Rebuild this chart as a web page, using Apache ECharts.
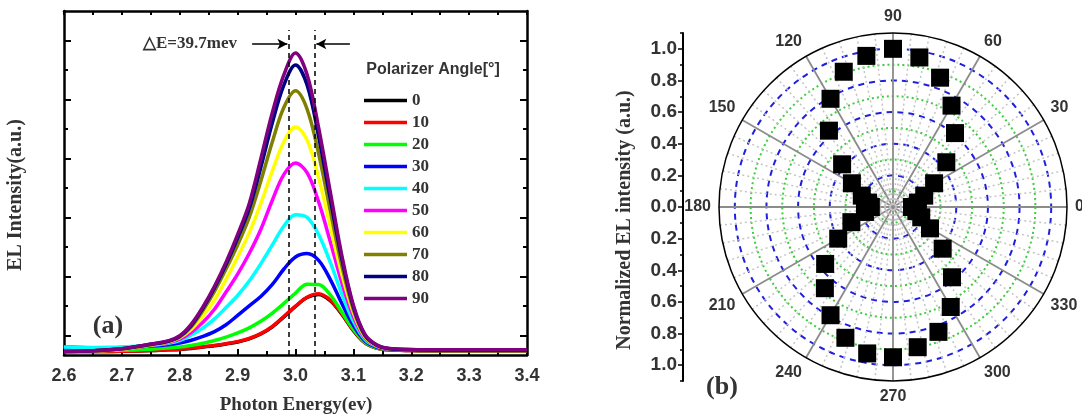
<!DOCTYPE html>
<html>
<head>
<meta charset="utf-8">
<script src="https://cdn.jsdelivr.net/npm/echarts@6/dist/echarts.min.js"></script>
<style>
  html, body { margin: 0; padding: 0; background: #fff; }
  #chart { width: 1082px; height: 420px; }
</style>
</head>
<body>
<div id="chart"></div>
<script>
// photon energy (ev) sample points shared by every spectrum
const energy = [2.6, 2.65, 2.7, 2.75, 2.78, 2.8, 2.82, 2.84, 2.86, 2.88, 2.9, 2.92, 2.94, 2.96, 2.98,
  3.0, 3.02, 3.04, 3.06, 3.08, 3.1, 3.12, 3.14, 3.16, 3.2, 3.25, 3.3, 3.35, 3.4]

// EL intensity (a.u.) for each polarizer angle
const int0 = [1.0, 1.0, 1.1, 1.3, 1.5, 1.6, 1.9, 2.3, 2.7, 3.2, 3.8, 4.7, 6.1, 8.2, 11.1, 14.1, 16.7, 17.6, 15.8, 11.9, 7.1, 3.5, 2.0, 1.5, 1.3, 1.2, 1.2, 1.2, 1.2]
const int10 = [1.0, 1.0, 1.1, 1.3, 1.5, 1.7, 2.0, 2.4, 2.8, 3.3, 3.9, 4.8, 6.2, 8.3, 11.2, 14.2, 16.8, 17.8, 16.0, 12.0, 7.2, 3.6, 2.0, 1.5, 1.3, 1.2, 1.2, 1.2, 1.2]
const int20 = [1.3, 1.3, 1.4, 1.7, 2.0, 2.3, 2.8, 3.4, 4.2, 5.2, 6.4, 7.9, 9.8, 12.2, 15.0, 18.0, 20.6, 20.5, 17.5, 12.5, 7.5, 3.7, 2.1, 1.6, 1.4, 1.3, 1.3, 1.3, 1.3]
const int30 = [2.3, 2.1, 2.2, 2.6, 3.0, 3.5, 4.3, 5.4, 6.8, 8.8, 11.5, 14.3, 17.0, 20.5, 25.0, 28.5, 29.5, 27.5, 22.0, 15.0, 8.6, 4.1, 2.3, 1.7, 1.5, 1.4, 1.4, 1.4, 1.4]
const int40 = [2.3, 2.2, 2.3, 2.8, 3.4, 4.2, 5.8, 7.8, 10.5, 13.8, 17.3, 21.5, 26.5, 32.0, 37.5, 40.8, 40.0, 35.0, 27.0, 17.8, 9.8, 4.5, 2.5, 1.8, 1.6, 1.5, 1.5, 1.5, 1.5]
const int50 = [1.0, 1.2, 1.7, 2.8, 3.6, 4.6, 6.6, 9.5, 13.3, 18.3, 23.5, 29.5, 36.5, 45.0, 52.5, 55.8, 53.0, 44.5, 33.0, 21.0, 11.2, 4.9, 2.6, 1.7, 1.5, 1.4, 1.4, 1.4, 1.4]
const int60 = [1.0, 1.2, 1.7, 2.9, 3.8, 5.0, 7.5, 11.3, 16.0, 22.0, 28.5, 35.5, 44.0, 53.5, 62.0, 66.3, 62.5, 51.5, 37.5, 23.5, 12.3, 5.2, 2.7, 1.8, 1.5, 1.4, 1.4, 1.4, 1.4]
const int70 = [1.0, 1.2, 1.8, 3.0, 3.9, 5.2, 8.2, 12.9, 18.5, 25.0, 32.0, 40.0, 50.5, 62.0, 72.0, 76.8, 71.5, 58.5, 42.0, 26.0, 13.2, 5.5, 2.8, 1.8, 1.5, 1.4, 1.4, 1.4, 1.4]
const int80 = [1.0, 1.2, 1.8, 3.1, 4.0, 5.4, 8.6, 13.6, 19.5, 26.3, 34.0, 42.5, 54.5, 67.5, 78.5, 84.3, 78.5, 63.5, 45.5, 28.0, 14.0, 5.8, 2.9, 1.9, 1.5, 1.4, 1.4, 1.4, 1.4]
const int90 = [1.0, 1.2, 1.8, 3.2, 4.1, 5.6, 9.0, 14.0, 20.0, 27.0, 35.0, 44.0, 57.0, 70.5, 81.5, 87.8, 81.5, 66.0, 47.5, 29.0, 14.5, 6.0, 3.0, 2.0, 1.6, 1.5, 1.5, 1.5, 1.5]

const angleNames = ['0', '10', '20', '30', '40', '50', '60', '70', '80', '90']
const spectra = [int0, int10, int20, int30, int40, int50, int60, int70, int80, int90]
const lineColors = ['#000000', '#ff0000', '#00ff00', '#0000ff', '#00ffff', '#ff00ff', '#ffff00', '#808000', '#000080', '#800080']

// peak positions marked with dashed lines (ev)
const peakMarks = [2.989, 3.033]

// polar plot (b): polarizer angle (deg) and normalized EL intensity
const polarAngles = [0, 10, 20, 30, 40, 50, 60, 70, 80, 90, 100, 110, 120, 130, 140, 150, 160, 170,
  180, 190, 200, 210, 220, 230, 240, 250, 260, 270, 280, 290, 300, 310, 320, 330, 340, 350]
const polarValues = [0.12, 0.16, 0.21, 0.30, 0.44, 0.61, 0.74, 0.87, 0.96, 1.0, 0.97, 0.91, 0.79, 0.63, 0.42, 0.30, 0.21, 0.16,
  0.14, 0.18, 0.28, 0.40, 0.56, 0.67, 0.79, 0.88, 0.94, 0.95, 0.90, 0.84, 0.73, 0.58, 0.41, 0.27, 0.19, 0.15]

const sans = 'Liberation Sans'
const serif = 'Liberation Serif'
const inkText = '#333'

const chart = echarts.init(document.getElementById('chart'))

const lineSeries = spectra.map((vals, i) => ({
  type: 'line',
  name: angleNames[i],
  xAxisIndex: 0,
  yAxisIndex: 0,
  data: energy.map((e, j) => [e, vals[j]]),
  symbol: 'none',
  showSymbol: false,
  smooth: 0.35,
  lineStyle: { width: 3.5, color: lineColors[i] },
  itemStyle: { color: lineColors[i] }
}))

// dashed peak lines + arrows for ΔE go on the top-most spectrum
lineSeries[lineSeries.length - 1].markLine = {
  silent: true,
  animation: false,
  symbol: 'none',
  label: { show: false },
  lineStyle: { color: '#000', width: 1.5, type: [5, 4] },
  data: [
    [{ coord: [peakMarks[0], 0] }, { coord: [peakMarks[0], 94.5] }],
    [{ coord: [peakMarks[1], 0] }, { coord: [peakMarks[1], 94.5] }],
    [{ coord: [2.925, 90.4], symbol: 'none', lineStyle: { type: 'solid', width: 1.5, color: '#000' } },
      { coord: [2.986, 90.4], symbol: 'arrow', symbolSize: [8, 10] }],
    [{ coord: [3.094, 90.4], symbol: 'none', lineStyle: { type: 'solid', width: 1.5, color: '#000' } },
      { coord: [3.036, 90.4], symbol: 'arrow', symbolSize: [8, 10] }]
  ]
}

const hidden = { show: false }
const frameLine = { show: true, onZero: false, lineStyle: { color: '#000', width: 2.5 } }

const option = {
  animation: false,
  backgroundColor: '#fff',
  grid: [
    { left: 64, top: 11, width: 463, height: 344, outerBoundsMode: 'none' },
    { left: 64, top: 40.5, width: 463, height: 295, outerBoundsMode: 'none' },
    { left: 683, top: 48.8, width: 1, height: 316.4, outerBoundsMode: 'none' },
    { left: 683, top: 33, width: 1, height: 348, outerBoundsMode: 'none' }
  ],
  xAxis: [
    {
      gridIndex: 0, type: 'value', min: 2.6, max: 3.4, interval: 0.1, position: 'bottom',
      axisLine: frameLine,
      axisTick: { show: true, inside: true, length: 6, lineStyle: { color: '#000', width: 2 } },
      minorTick: { show: true, splitNumber: 2, length: 4, lineStyle: { color: '#000', width: 2 } },
      axisLabel: {
        margin: 12, color: inkText, fontFamily: sans, fontWeight: 'bold', fontSize: 18,
        formatter: v => v.toFixed(1)
      },
      splitLine: hidden
    },
    {
      gridIndex: 0, type: 'value', min: 2.6, max: 3.4, interval: 0.05, position: 'top',
      axisLine: frameLine,
      axisTick: { show: true, inside: true, length: 4, lineStyle: { color: '#000', width: 2 } },
      axisLabel: hidden, splitLine: hidden
    },
    { gridIndex: 1, type: 'value', min: 0, max: 1, show: false },
    { gridIndex: 2, type: 'value', min: 0, max: 1, show: false },
    { gridIndex: 3, type: 'value', min: 0, max: 1, show: false }
  ],
  yAxis: [
    { gridIndex: 0, type: 'value', min: 0, max: 100, position: 'left', axisLine: frameLine, axisTick: hidden, axisLabel: hidden, splitLine: hidden },
    { gridIndex: 0, type: 'value', min: 0, max: 100, position: 'right', axisLine: frameLine, axisTick: hidden, axisLabel: hidden, splitLine: hidden },
    {
      gridIndex: 1, type: 'value', min: 0, max: 5, interval: 1, position: 'left',
      axisLine: hidden, axisLabel: hidden, splitLine: hidden,
      axisTick: { show: true, inside: true, length: 7, lineStyle: { color: '#000', width: 2 } },
      minorTick: { show: true, splitNumber: 2, length: 4, lineStyle: { color: '#000', width: 2 } }
    },
    {
      gridIndex: 1, type: 'value', min: 0, max: 5, interval: 1, position: 'right',
      axisLine: hidden, axisLabel: hidden, splitLine: hidden,
      axisTick: { show: true, inside: true, length: 7, lineStyle: { color: '#000', width: 2 } },
      minorTick: { show: true, splitNumber: 2, length: 4, lineStyle: { color: '#000', width: 2 } }
    },
    {
      gridIndex: 2, type: 'value', min: -1, max: 1, interval: 0.2, position: 'left',
      axisLine: { show: true, onZero: false, lineStyle: { color: '#000', width: 2 } },
      axisTick: { show: true, length: 5, lineStyle: { color: '#000', width: 1.5 } },
      minorTick: { show: true, splitNumber: 2, length: 3, lineStyle: { color: '#000', width: 1.5 } },
      axisLabel: {
        margin: 6, color: inkText, fontFamily: sans, fontWeight: 'bold', fontSize: 19,
        formatter: v => Math.abs(v).toFixed(1)
      },
      splitLine: hidden
    },
    {
      gridIndex: 3, type: 'value', min: -1.1, max: 1.1, interval: 2.2, position: 'left',
      axisLine: { show: true, onZero: false, lineStyle: { color: '#000', width: 2 } },
      axisTick: { show: true, length: 3, lineStyle: { color: '#000', width: 1.5 } },
      axisLabel: hidden, splitLine: hidden
    }
  ],
  polar: [
    { center: [893, 207], radius: 174 },
    { center: [893, 207], radius: 174 },
    { center: [893, 207], radius: 174 }
  ],
  angleAxis: [
    {
      polarIndex: 0, type: 'value', min: 0, max: 360, interval: 30, startAngle: 0, clockwise: false,
      axisLine: { show: true, lineStyle: { color: '#000', width: 1.5 } },
      axisTick: hidden,
      axisLabel: { margin: 8, color: inkText, fontFamily: sans, fontWeight: 'bold', fontSize: 16 },
      splitLine: { show: true, lineStyle: { color: '#8c8c8c', width: 1.8 } },
      minorTick: hidden,
      minorSplitLine: { show: true, lineStyle: { color: '#c4c4c4', width: 1.5, type: [2, 3] } }
    },
    { polarIndex: 1, type: 'value', min: 0, max: 360, startAngle: 0, clockwise: false, show: false },
    { polarIndex: 2, type: 'value', min: 0, max: 360, startAngle: 0, clockwise: false, show: false }
  ],
  radiusAxis: [
    { polarIndex: 0, type: 'value', min: 0, max: 1.1, show: false },
    {
      polarIndex: 1, type: 'value', min: 0, max: 1.1, interval: 0.2,
      axisLine: hidden, axisTick: hidden, axisLabel: hidden,
      splitLine: {
        show: true,
        lineStyle: {
          width: 2, type: [6, 5],
          color: ['transparent', '#1f1fe0', '#1f1fe0', '#1f1fe0', '#1f1fe0', '#1f1fe0', 'transparent']
        }
      }
    },
    {
      polarIndex: 2, type: 'value', min: 0, max: 1.1, interval: 0.1,
      axisLine: hidden, axisTick: hidden, axisLabel: hidden,
      splitLine: {
        show: true,
        lineStyle: {
          width: 2, type: [2, 3],
          color: ['transparent', '#3ccf3c', 'transparent', '#3ccf3c', 'transparent', '#3ccf3c',
            'transparent', '#3ccf3c', 'transparent', '#3ccf3c', 'transparent', 'transparent']
        }
      }
    }
  ],
  legend: {
    data: angleNames,
    orient: 'vertical',
    left: 364,
    top: 92,
    padding: 0,
    itemGap: 5,
    itemWidth: 43,
    itemHeight: 3.5,
    icon: 'rect',
    selectedMode: false,
    textStyle: { fontFamily: serif, fontWeight: 'bold', fontSize: 17, lineHeight: 17, color: inkText }
  },
  graphic: [
    { type: 'text', x: 16, y: 195, rotation: Math.PI / 2, style: { text: 'EL Intensity(a.u.)', font: 'bold 20px "Liberation Serif"', fill: inkText, align: 'center', verticalAlign: 'middle' } },
    { type: 'text', x: 296, y: 405, style: { text: 'Photon Energy(ev)', font: 'bold 19px "Liberation Serif"', fill: inkText, align: 'center', verticalAlign: 'middle' } },
    { type: 'text', x: 433, y: 70, style: { text: 'Polarizer Angle[°]', font: 'bold 16px "Liberation Sans"', fill: inkText, align: 'center', verticalAlign: 'middle' } },
    { type: 'text', x: 190, y: 44, style: { text: '△E=39.7mev', font: 'bold 17px "Liberation Serif"', fill: inkText, align: 'center', verticalAlign: 'middle' } },
    { type: 'text', x: 108, y: 326, style: { text: '(a)', font: 'bold 26px "Liberation Serif"', fill: inkText, align: 'center', verticalAlign: 'middle' } },
    { type: 'text', x: 625, y: 220, rotation: Math.PI / 2, style: { text: 'Normalized EL intensity (a.u.)', font: 'bold 20px "Liberation Serif"', fill: inkText, align: 'center', verticalAlign: 'middle' } },
    { type: 'text', x: 722, y: 387, style: { text: '(b)', font: 'bold 26px "Liberation Serif"', fill: inkText, align: 'center', verticalAlign: 'middle' } }
  ],
  series: lineSeries.concat([
    {
      type: 'scatter',
      name: 'polar',
      coordinateSystem: 'polar',
      polarIndex: 0,
      symbol: 'rect',
      symbolSize: 18,
      itemStyle: { color: '#000', opacity: 1 },
      data: polarValues.map((r, i) => [r, polarAngles[i]]),
      z: 5
    }
  ])
}

chart.setOption(option)
</script>
</body>
</html>
